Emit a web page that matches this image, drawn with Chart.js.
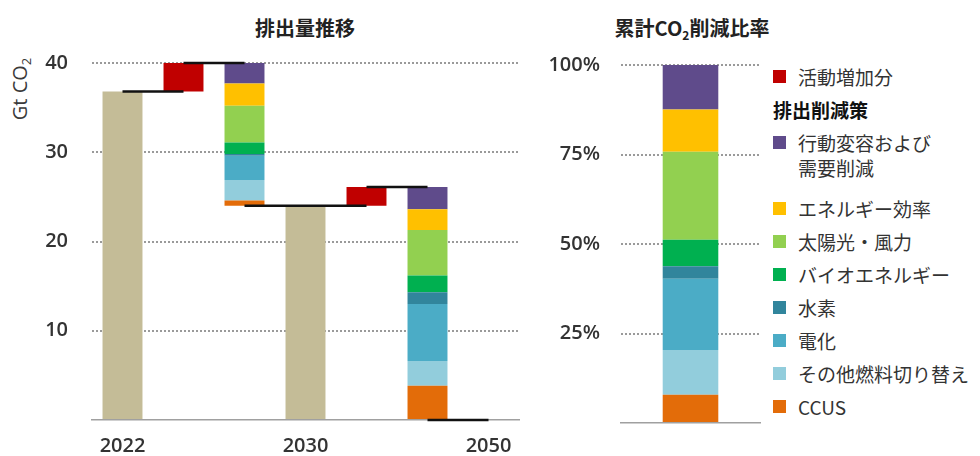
<!DOCTYPE html>
<html>
<head>
<meta charset="utf-8">
<script src="https://cdn.jsdelivr.net/npm/chart.js@4.4.1/dist/chart.umd.min.js"></script>
<style>
  body { margin: 0; background: #fff; width: 980px; height: 456px; overflow: hidden; position: relative; font-family: 'Noto Sans CJK JP', 'Open Sans', sans-serif; }
  .box { position: absolute; top: 0; height: 456px; }
  .title { position: absolute; top: 14px; transform: translateX(-50%); font-size: 20px; font-weight: 700; line-height: 28px; color: #222; white-space: nowrap; }
  .title sub { font-size: 12px; vertical-align: -4px; line-height: 0; }
  #ytitle { position: absolute; left: 19px; top: 89px; transform: translate(-50%, -50%) rotate(-90deg); font-family: 'Open Sans', sans-serif; font-size: 20px; color: #3a3a3a; white-space: nowrap; }
  #ytitle sub { font-size: 13px; vertical-align: -4px; line-height: 0; }
  #legend { position: absolute; left: 773px; top: 64px; font-size: 19px; color: #333; }
  .item { display: flex; align-items: flex-start; line-height: 25px; margin-bottom: 8px; white-space: pre; }
  .item.wrap { margin-bottom: 16px; }
  .swatch { width: 12.5px; height: 12.5px; margin-top: 6px; margin-right: 12.5px; flex: none; }
  .head { font-weight: 700; color: #111; line-height: 25px; margin-bottom: 8px; }
</style>
</head>
<body>
<div class="title" style="left:305px">排出量推移</div>
<div class="title" style="left:692px">累計CO<sub>2</sub>削減比率</div>
<div id="ytitle">Gt CO<sub>2</sub></div>
<div class="box" style="left:0; width:525px"><canvas id="flow"></canvas></div>
<div class="box" style="left:530px; width:240px"><canvas id="share"></canvas></div>
<div id="legend"></div>
<script>
// categories of the waterfall (only the years are labelled)
const categories = ['2022', 'inc1', 'cut1', '2030', 'inc2', 'cut2', '2050'];
const tickLabels = ['2022', '', '', '2030', '', '', '2050'];

// Gt CO2
const baseEmissions = [36.8, 24.0, 0];      // 2022, 2030, 2050
const activityIncrease = [3.2, 2.1];        // 2022-2030, 2030-2050
const activityLabel = '活動増加分';
const activityColor = '#C00000';
const baseColor = '#C4BC97';

// reduction measures, bottom to top
const measures = ['CCUS', 'その他燃料切り替え', '電化', '水素', 'バイオエネルギー', '太陽光・風力', 'エネルギー効率', '行動変容および\n需要削減'];
const measureColors = ['#E36C09', '#92CDDC', '#4BACC6', '#31859C', '#00B050', '#92D050', '#FFC000', '#5F4B8B'];
const cut2030 = [0.6, 2.3, 2.7, 0.2, 1.3, 4.1, 2.5, 2.3];
const cut2050 = [3.85, 2.75, 6.4, 1.3, 1.9, 5.1, 2.3, 2.5];

// cumulative reduction share, %
const cumulativeShare = [7.9, 12.5, 19.9, 3.5, 7.4, 24.6, 11.8, 12.4];

const tickFont = { family: "'Open Sans', sans-serif", size: 20, weight: '600' };
const tickColor = '#333';
const gridColor = '#9a9a9a';

// --- waterfall datasets ---
const datasets = [];
const baseData = [[0, baseEmissions[0]], null, null, [0, baseEmissions[1]], null, null, null];
datasets.push({ label: 'base', data: baseData, backgroundColor: baseColor });

const top1 = baseEmissions[0] + activityIncrease[0];
const top2 = baseEmissions[1] + activityIncrease[1];
datasets.push({
  label: activityLabel,
  data: [null, [baseEmissions[0], top1], null, null, [baseEmissions[1], top2], null, null],
  backgroundColor: activityColor
});

let lo1 = baseEmissions[1];
let lo2 = baseEmissions[2];
measures.forEach((m, i) => {
  const d = [null, null, [lo1, lo1 + cut2030[i]], null, null, [lo2, lo2 + cut2050[i]], null];
  lo1 += cut2030[i];
  lo2 += cut2050[i];
  datasets.push({ label: m, data: d, backgroundColor: measureColors[i] });
});

// connector lines between bars
const connectors = [
  [0, 1, baseEmissions[0]],
  [1, 2, top1],
  [2, 4, baseEmissions[1]],
  [4, 5, top2],
  [5, 6, baseEmissions[2]]
];
connectors.forEach(c => {
  datasets.push({
    type: 'line',
    data: [{ x: categories[c[0]], y: c[2] }, { x: categories[c[1]], y: c[2] }],
    borderColor: '#111',
    borderWidth: 2.5,
    pointRadius: 0,
    clip: false,
    order: -1
  });
});

new Chart(document.getElementById('flow'), {
  type: 'bar',
  data: { labels: categories, datasets: datasets },
  options: {
    responsive: true,
    maintainAspectRatio: false,
    animation: false,
    devicePixelRatio: 1,
    layout: { padding: { top: 63, right: 6, left: 0, bottom: 0 } },
    datasets: { bar: { barPercentage: 1, categoryPercentage: 0.655 } },
    plugins: { legend: { display: false }, tooltip: { enabled: false } },
    scales: {
      x: {
        stacked: true,
        grid: { display: false },
        border: { display: true, color: '#a0a0a0', width: 1.5 },
        ticks: {
          autoSkip: false, maxRotation: 0, padding: 6,
          font: tickFont, color: tickColor,
          callback: (v, i) => tickLabels[i]
        },
        afterFit: s => { s.height = 33; }
      },
      y: {
        stacked: false,
        min: 0, max: 40,
        grid: {
          drawTicks: false, lineWidth: 2,
          color: c => c.tick.value === 0 ? 'rgba(0,0,0,0)' : gridColor
        },
        border: { display: false, dash: [2, 2] },
        ticks: {
          stepSize: 10, padding: 24, font: tickFont, color: tickColor,
          callback: v => v === 0 ? '' : v
        },
        afterFit: s => { s.width = 92; }
      }
    }
  }
});

// --- cumulative share chart ---
new Chart(document.getElementById('share'), {
  type: 'bar',
  data: {
    labels: ['share'],
    datasets: measures.map((m, i) => ({ label: m, data: [cumulativeShare[i]], backgroundColor: measureColors[i] }))
  },
  options: {
    responsive: true,
    maintainAspectRatio: false,
    animation: false,
    devicePixelRatio: 1,
    layout: { padding: { top: 65, right: 10, left: 0, bottom: 29 } },
    datasets: { bar: { barPercentage: 1, categoryPercentage: 0.40 } },
    plugins: { legend: { display: false }, tooltip: { enabled: false } },
    scales: {
      x: {
        stacked: true,
        grid: { display: false },
        border: { display: true, color: '#a0a0a0', width: 1.5 },
        ticks: { display: false },
        afterFit: s => { s.height = 0; }
      },
      y: {
        stacked: true,
        min: 0, max: 100,
        grid: {
          drawTicks: false, lineWidth: 2,
          color: c => c.tick.value === 0 ? 'rgba(0,0,0,0)' : gridColor
        },
        border: { display: false, dash: [2, 2] },
        ticks: {
          stepSize: 25, padding: 21, font: tickFont, color: tickColor,
          callback: v => v === 0 ? '' : v + '%'
        },
        afterFit: s => { s.width = 91; }
      }
    }
  }
});

// --- legend ---
const legend = document.getElementById('legend');
function addItem(label, color) {
  const row = document.createElement('div');
  row.className = 'item' + (label.includes('\n') ? ' wrap' : '');
  const sw = document.createElement('span');
  sw.className = 'swatch';
  sw.style.background = color;
  const tx = document.createElement('span');
  tx.textContent = label;
  row.appendChild(sw);
  row.appendChild(tx);
  legend.appendChild(row);
}
addItem(activityLabel, activityColor);
const head = document.createElement('div');
head.className = 'head';
head.textContent = '排出削減策';
legend.appendChild(head);
for (let i = measures.length - 1; i >= 0; i--) {
  addItem(measures[i], measureColors[i]);
}
</script>
</body>
</html>
